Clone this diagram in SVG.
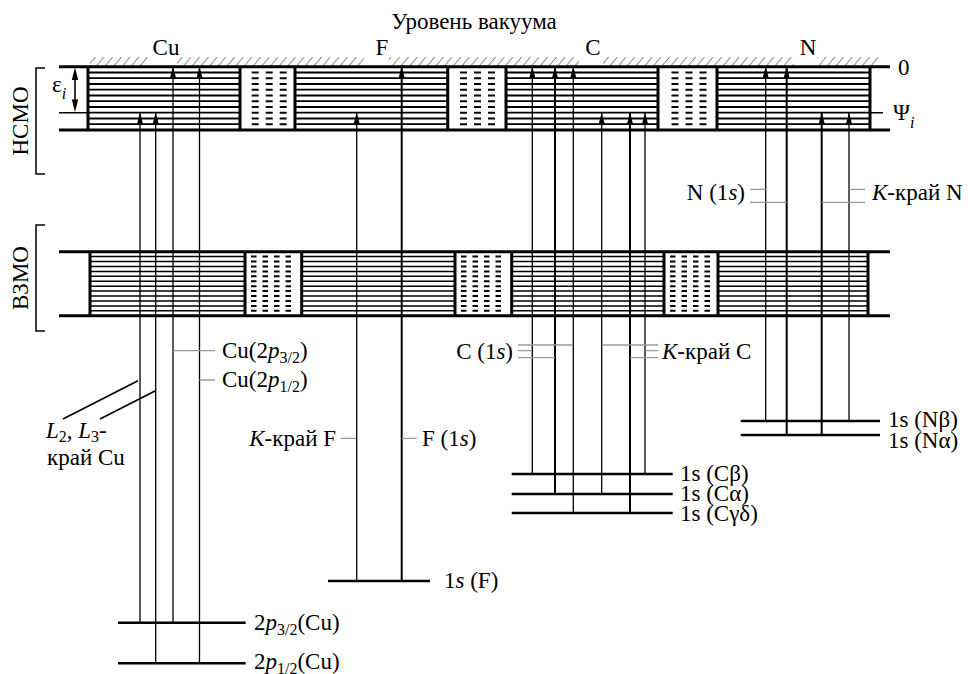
<svg xmlns="http://www.w3.org/2000/svg" width="968" height="674" viewBox="0 0 968 674">
<style>
text{font-family:"Liberation Serif","Times New Roman",serif;font-size:23px;fill:#000}
.it{font-style:italic}
.sub{font-size:16px}
.thick{stroke:#000;stroke-width:3;fill:none}
.lvl{stroke:#000;stroke-width:1.8;fill:none}
.lvl2{stroke:#000;stroke-width:1.5;fill:none}
.dash1{stroke:#000;stroke-width:2;fill:none;stroke-dasharray:7 7}
.dash2{stroke:#000;stroke-width:2;fill:none;stroke-dasharray:5.5 6}
.core{stroke:#000;stroke-width:2.4;fill:none}
.tr{stroke:#000;stroke-width:1.3;fill:none;marker-end:url(#ah)}
.trb{stroke:#000;stroke-width:2;fill:none;marker-end:url(#ah)}
.tick{stroke:#999;stroke-width:1.3;fill:none}
.br{stroke:#000;stroke-width:1.5;fill:none}
</style>
<defs>
<marker id="ah" viewBox="0 0 11 6" refX="11" refY="3" markerWidth="11" markerHeight="6" markerUnits="userSpaceOnUse" orient="auto"><path d="M0,0 L11,3 L0,6 Z" fill="#000"/></marker>
<pattern id="hatch" patternUnits="userSpaceOnUse" x="0" y="57" width="8.7" height="9.5"><path d="M0.4,9.5 L8.3,0" stroke="#555" stroke-width="0.9"/></pattern>
</defs>

<g id="vacuum">
<text x="474" y="29" text-anchor="middle" font-size="24">Уровень вакуума</text>
<rect x="90" y="57" width="59" height="9" fill="url(#hatch)"/>
<rect x="177" y="57" width="187" height="9" fill="url(#hatch)"/>
<rect x="389" y="57" width="190" height="9" fill="url(#hatch)"/>
<rect x="603" y="57" width="191" height="9" fill="url(#hatch)"/>
<rect x="817" y="57" width="62" height="9" fill="url(#hatch)"/>
<text x="166" y="55" text-anchor="middle">Cu</text>
<text x="382" y="55" text-anchor="middle">F</text>
<text x="593" y="55" text-anchor="middle">C</text>
<text x="808" y="55" text-anchor="middle">N</text>
</g>

<g id="lumo-band">
<path class="thick" d="M59,66.7 H890 M59,130 H890"/>
<path class="lvl2" d="M59,112.7 H88 M870,112.7 H883"/>
<path class="thick" d="M88,66.7 V130 M240,66.7 V130 M295,66.7 V130 M447.7,66.7 V130 M506,66.7 V130 M658,66.7 V130 M717,66.7 V130 M870,66.7 V130"/>
<path class="lvl" d="M88,72.5 H240 M88,78.2 H240 M88,84 H240 M88,89.7 H240 M88,95.5 H240 M88,101.2 H240 M88,107 H240 M88,112.7 H240 M88,118.5 H240 M88,124.2 H240"/>
<path class="lvl" d="M295,72.5 H447.7 M295,78.2 H447.7 M295,84 H447.7 M295,89.7 H447.7 M295,95.5 H447.7 M295,101.2 H447.7 M295,107 H447.7 M295,112.7 H447.7 M295,118.5 H447.7 M295,124.2 H447.7"/>
<path class="lvl" d="M506,72.5 H658 M506,78.2 H658 M506,84 H658 M506,89.7 H658 M506,95.5 H658 M506,101.2 H658 M506,107 H658 M506,112.7 H658 M506,118.5 H658 M506,124.2 H658"/>
<path class="lvl" d="M717,72.5 H870 M717,78.2 H870 M717,84 H870 M717,89.7 H870 M717,95.5 H870 M717,101.2 H870 M717,107 H870 M717,112.7 H870 M717,118.5 H870 M717,124.2 H870"/>
<path class="dash1" d="M251.7,72.5 H288 M251.7,78.2 H288 M251.7,84 H288 M251.7,89.7 H288 M251.7,95.5 H288 M251.7,101.2 H288 M251.7,107 H288 M251.7,112.7 H288 M251.7,118.5 H288 M251.7,124.2 H288"/>
<path class="dash1" d="M460,72.5 H496 M460,78.2 H496 M460,84 H496 M460,89.7 H496 M460,95.5 H496 M460,101.2 H496 M460,107 H496 M460,112.7 H496 M460,118.5 H496 M460,124.2 H496"/>
<path class="dash1" d="M671.5,72.5 H708 M671.5,78.2 H708 M671.5,84 H708 M671.5,89.7 H708 M671.5,95.5 H708 M671.5,101.2 H708 M671.5,107 H708 M671.5,112.7 H708 M671.5,118.5 H708 M671.5,124.2 H708"/>
<text x="898" y="75" font-size="20">0</text>
<text x="893" y="120" font-size="22">Ψ<tspan class="it sub" dy="8">i</tspan></text>
<path d="M75,72 V107" stroke="#000" stroke-width="1.6" fill="none"/>
<path d="M75,67.5 L71.8,80 L78.2,80 Z M75,112 L71.8,99.5 L78.2,99.5 Z" fill="#000"/>
<text x="52" y="92" font-size="23">ε<tspan class="it sub" dy="7">i</tspan></text>
<path class="br" d="M45,68 H36 V174 H45"/>
<text transform="translate(28,121) rotate(-90)" text-anchor="middle" font-size="24">НСМО</text>
</g>

<g id="homo-band">
<path class="thick" d="M59,251.7 H890 M59,315.7 H890"/>
<path class="thick" d="M90,251.7 V315.7 M245,251.7 V315.7 M301.7,251.7 V315.7 M455,251.7 V315.7 M511.7,251.7 V315.7 M664,251.7 V315.7 M718,251.7 V315.7 M868,251.7 V315.7"/>
<path class="lvl2" d="M90,256.6 H245 M90,261.5 H245 M90,266.5 H245 M90,271.4 H245 M90,276.3 H245 M90,281.2 H245 M90,286.2 H245 M90,291.1 H245 M90,296 H245 M90,300.9 H245 M90,305.9 H245 M90,310.8 H245"/>
<path class="lvl2" d="M301.7,256.6 H455 M301.7,261.5 H455 M301.7,266.5 H455 M301.7,271.4 H455 M301.7,276.3 H455 M301.7,281.2 H455 M301.7,286.2 H455 M301.7,291.1 H455 M301.7,296 H455 M301.7,300.9 H455 M301.7,305.9 H455 M301.7,310.8 H455"/>
<path class="lvl2" d="M511.7,256.6 H664 M511.7,261.5 H664 M511.7,266.5 H664 M511.7,271.4 H664 M511.7,276.3 H664 M511.7,281.2 H664 M511.7,286.2 H664 M511.7,291.1 H664 M511.7,296 H664 M511.7,300.9 H664 M511.7,305.9 H664 M511.7,310.8 H664"/>
<path class="lvl2" d="M718,256.6 H868 M718,261.5 H868 M718,266.5 H868 M718,271.4 H868 M718,276.3 H868 M718,281.2 H868 M718,286.2 H868 M718,291.1 H868 M718,296 H868 M718,300.9 H868 M718,305.9 H868 M718,310.8 H868"/>
<path class="dash2" d="M251,256.6 H297 M251,261.5 H297 M251,266.5 H297 M251,271.4 H297 M251,276.3 H297 M251,281.2 H297 M251,286.2 H297 M251,291.1 H297 M251,296 H297 M251,300.9 H297 M251,305.9 H297 M251,310.8 H297"/>
<path class="dash2" d="M461,256.6 H507 M461,261.5 H507 M461,266.5 H507 M461,271.4 H507 M461,276.3 H507 M461,281.2 H507 M461,286.2 H507 M461,291.1 H507 M461,296 H507 M461,300.9 H507 M461,305.9 H507 M461,310.8 H507"/>
<path class="dash2" d="M670,256.6 H714 M670,261.5 H714 M670,266.5 H714 M670,271.4 H714 M670,276.3 H714 M670,281.2 H714 M670,286.2 H714 M670,291.1 H714 M670,296 H714 M670,300.9 H714 M670,305.9 H714 M670,310.8 H714"/>
<path class="br" d="M45,225 H36 V331 H45"/>
<text transform="translate(28,278) rotate(-90)" text-anchor="middle" font-size="24">ВЗМО</text>
</g>

<g id="cu-levels">
<path class="core" d="M118,622.7 H245.7 M118,663.3 H245.7"/>
<text x="254" y="630">2<tspan class="it">p</tspan><tspan class="sub" dy="5">3/2</tspan><tspan dy="-5">(Cu)</tspan></text>
<text x="254" y="669">2<tspan class="it">p</tspan><tspan class="sub" dy="5">1/2</tspan><tspan dy="-5">(Cu)</tspan></text>
<text x="222" y="358">Cu(2<tspan class="it">p</tspan><tspan class="sub" dy="5">3/2</tspan><tspan dy="-5">)</tspan></text>
<text x="222" y="387">Cu(2<tspan class="it">p</tspan><tspan class="sub" dy="5">1/2</tspan><tspan dy="-5">)</tspan></text>
<text x="46" y="438"><tspan class="it">L</tspan><tspan class="sub" dy="4">2</tspan><tspan dy="-4">, </tspan><tspan class="it">L</tspan><tspan class="sub" dy="4">3</tspan><tspan dy="-4">-</tspan></text>
<text x="47" y="465">край Cu</text>
</g>

<g id="f-levels">
<path class="core" d="M328,581 H430"/>
<text x="444" y="588">1<tspan class="it">s</tspan> (F)</text>
<text x="336" y="446" text-anchor="end"><tspan class="it">K</tspan>-край F</text>
<text x="422" y="446">F (1<tspan class="it">s</tspan>)</text>
</g>

<g id="c-levels">
<path class="core" d="M511.7,474 H672.7 M511.7,494 H672.7 M511.7,513 H672.7"/>
<text x="680" y="481" font-size="22">1s (Cβ)</text>
<text x="680" y="501" font-size="22">1s (Cα)</text>
<text x="680" y="521" font-size="22">1s (Cγδ)</text>
<text x="513" y="359" text-anchor="end">C (1<tspan class="it">s</tspan>)</text>
<text x="662" y="359"><tspan class="it">K</tspan>-край C</text>
</g>

<g id="n-levels">
<path class="core" d="M740.7,421 H880 M740.7,435 H880"/>
<text x="888" y="427" font-size="22">1s (Nβ)</text>
<text x="888" y="448" font-size="22">1s (Nα)</text>
<text x="745" y="200" text-anchor="end">N (1<tspan class="it">s</tspan>)</text>
<text x="872" y="200"><tspan class="it">K</tspan>-край N</text>
</g>

<g id="connectors">
<path class="tr" d="M140,622.7 V112.7"/>
<path class="tr" d="M155.7,663.3 V112.7"/>
<path class="tr" d="M173,622.7 V66.7"/>
<path class="tr" d="M199.5,663.3 V66.7"/>
<path class="tr" d="M356.7,581 V112.7"/>
<path class="trb" d="M401.7,581 V66.7"/>
<path class="tr" d="M532.3,474 V66.7"/>
<path class="trb" d="M555,494 V66.7"/>
<path class="tr" d="M573.3,513 V66.7"/>
<path class="tr" d="M601.7,494 V112.7"/>
<path class="trb" d="M630,513 V112.7"/>
<path class="tr" d="M645,474 V112.7"/>
<path class="tr" d="M765.7,421 V66.7"/>
<path class="trb" d="M786.7,435 V66.7"/>
<path class="trb" d="M821.7,435 V112.7"/>
<path class="tr" d="M849,421 V112.7"/>
<path stroke="#000" stroke-width="1.6" d="M63,419 L138,380.7 M100,419 L155,391"/>
<path class="tick" d="M173,350.7 H215 M199.5,380 H215"/>
<path class="tick" d="M340.7,438.3 H356 M401.7,438.3 H416.7"/>
<path class="tick" d="M518,345 H573 M518,350.7 H532 M518,357.7 H555 M601.7,345 H658 M645,350.7 H658 M630,357.7 H658"/>
<path class="tick" d="M750,189.3 H765.7 M750,202.3 H786.7 M849,189.3 H865 M821.7,202.3 H865"/>
</g>
</svg>
